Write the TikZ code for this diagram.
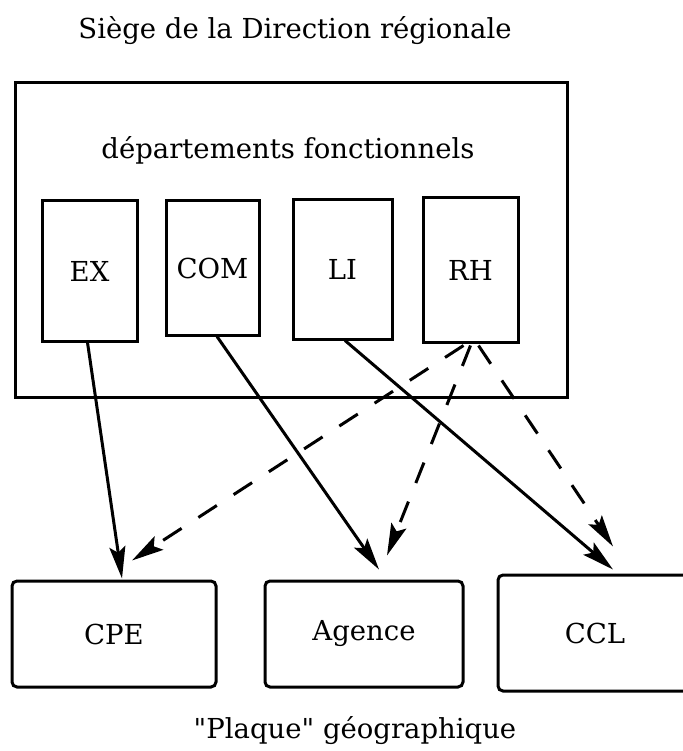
\documentclass[tikz,border=0pt]{standalone}
\usepackage{fontspec}
\setmainfont{DejaVu Serif}[Ligatures=TeXOff]
\usetikzlibrary{arrows.meta}
\begin{document}
\begin{tikzpicture}[x=1pt,y=-1pt,
  txt/.style={font=\fontsize{27.5}{33}\selectfont},
  frame/.style={draw, line width=3pt, inner sep=0pt},
  dept/.style={frame, txt},
  unit/.style={frame, txt, rounded corners=5pt},
  link/.style={line width=3pt, -{Stealth[length=32pt,width=16pt,inset=6pt]}},
  rhlink/.style={link, dash pattern=on 22pt off 20pt}]
\useasboundingbox (0,0) rectangle (682,751);

\node[txt, anchor=base] (title) at (295,39) {Siège de la Direction régionale};
\node[frame, minimum width=552pt, minimum height=314pt] (siege) at (291,240) {};
\node[txt] (fonct) at (288,150) {départements fonctionnels};

\node[dept, minimum width=95pt, minimum height=140pt] (EX) at (89.5,271) {EX};
\node[dept, minimum width=93pt, minimum height=134pt] (COM) at (212.5,268) {COM};
\node[dept, minimum width=99pt, minimum height=139pt] (LI) at (342.5,269.5) {LI};
\node[dept, minimum width=95pt, minimum height=144pt] (RH) at (470.5,270) {RH};

\node[unit, minimum width=204pt, minimum height=106pt] (CPE) at (114,634) {CPE};
\node[unit, minimum width=198pt, minimum height=106pt] (Agence) at (364,634) {Agence};
\node[unit, minimum width=194pt, minimum height=116pt] (CCL) at (595,633) {CCL};

\node[txt, anchor=base] (plaque) at (355,738) {"Plaque" géographique};

\draw[link] ([xshift=-2pt]EX.south) -- ([xshift=8pt,yshift=1pt]CPE.north);
\draw[link] ([xshift=4.5pt]COM.south) -- ([xshift=15pt,yshift=10pt]Agence.north);
\draw[link] ([xshift=2.5pt]LI.south) -- ([xshift=18pt,yshift=4pt]CCL.north);

\draw[rhlink] ([xshift=-7pt,yshift=-2pt]RH.south) -- ([xshift=18pt,yshift=19pt]CPE.north);
\draw[rhlink] ([yshift=-2pt]RH.south) -- ([xshift=23pt,yshift=24pt]Agence.north);
\draw[rhlink] ([xshift=8pt,yshift=-2pt]RH.south) -- ([xshift=18pt,yshift=27pt]CCL.north);
\end{tikzpicture}
\end{document}
